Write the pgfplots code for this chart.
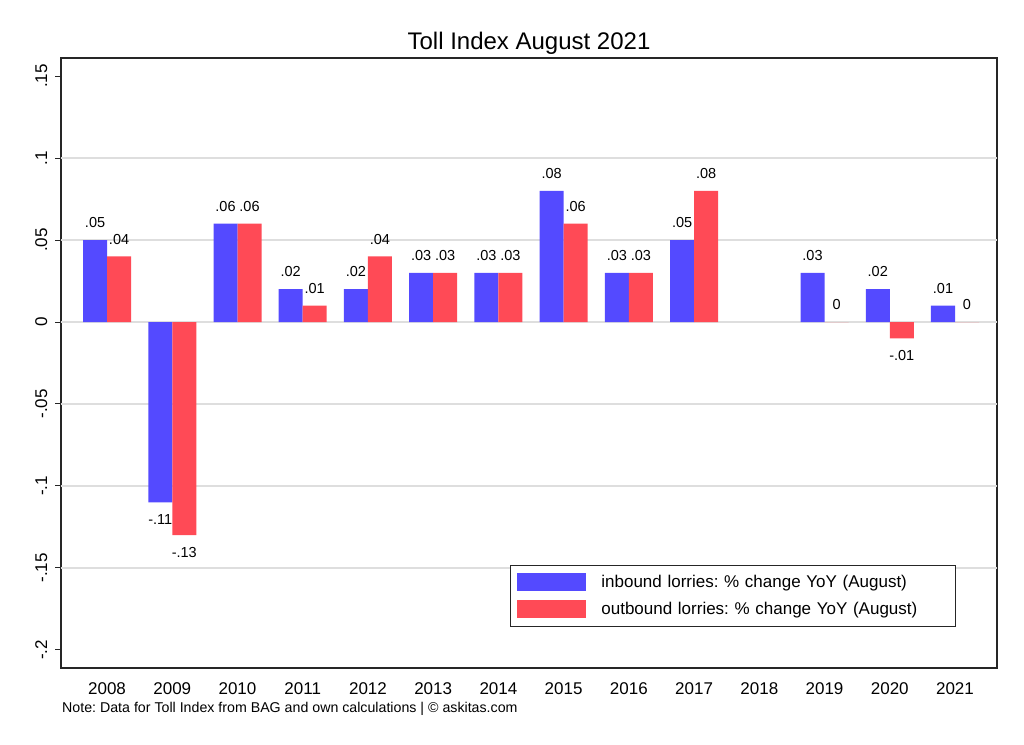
\documentclass[border=0pt]{standalone}
\usepackage{pgfplots}
\pgfplotsset{compat=1.18}
\usepackage{fontspec}
\setmainfont{Liberation Sans}
\usetikzlibrary{calc}
\definecolor{inblue}{RGB}{84,74,255}
\definecolor{outred}{RGB}{255,74,86}
\definecolor{gridgray}{RGB}{222,222,222}
\frenchspacing

\begin{document}
\begin{tikzpicture}
\begin{axis}[
  scale only axis,
  width=936bp, height=610bp,
  clip=false,
  xmin=2007.294, xmax=2021.644,
  ymin=-0.211, ymax=0.161,
  ybar=0pt, bar width=0.368,
  axis line style={draw=black!85, line width=1.1bp},
  /pgf/number format/assume math mode=true,
  ticklabel style={font=\fontsize{17bp}{20bp}\selectfont},
  xtick={2008,2009,2010,2011,2012,2013,2014,2015,2016,2017,2018,2019,2020,2021},
  xticklabels={2008,2009,2010,2011,2012,2013,2014,2015,2016,2017,2018,2019,2020,2021},
  xtick style={draw=none},
  xticklabel style={anchor=base},
  xticklabel shift=20bp,
  ytick={-0.2,-0.15,-0.1,-0.05,0,0.05,0.1,0.15},
  yticklabels={-.2,-.15,-.1,-.05,0,.05,.1,.15},
  ytick pos=left,
  ytick align=outside,
  major tick length=6bp,
  ytick style={draw=black!85, line width=1bp},
  yticklabel style={rotate=90, anchor=base},
  yticklabel shift=8bp,
  extra y ticks={-0.15,-0.1,-0.05,0,0.05,0.1},
  extra y tick labels={},
  extra y tick style={grid=major, major tick length=0pt,
    major grid style={draw=gridgray, line width=1.2bp}},
  title={Toll Index August 2021},
  title style={font=\fontsize{24bp}{28bp}\selectfont, at={(0.5,1)}, anchor=base, yshift=3bp},
  point meta=y,
  nodes near coords={\pgfmathprintnumber[fixed, precision=2, skip 0.]{\pgfplotspointmeta}},
  nodes near coords align=vertical,
  every node near coord/.append style={font=\fontsize{14.5bp}{17bp}\selectfont,
    text=black, inner xsep=0bp, inner ysep=12bp},
  legend style={
    at={(0.4797,0.1689)}, anchor=north west,
    draw=black!85, line width=0.8bp,
    inner xsep=7bp, inner ysep=8bp,
    font=\fontsize{17bp}{20bp}\selectfont,
    nodes={inner sep=0bp},
    row sep=9bp,
    /tikz/every odd column/.append style={column sep=15bp},
    /tikz/every even column/.append style={text width=347bp},
  },
  legend cell align=left,
  legend image code/.code={\fill[#1] (0bp,-9bp) rectangle (69bp,9bp);},
]
\addplot[fill=inblue, draw=none] coordinates {
  (2008,0.05) (2009,-0.11) (2010,0.06) (2011,0.02)
  (2012,0.02) (2013,0.03) (2014,0.03) (2015,0.08)
  (2016,0.03) (2017,0.05) (2019,0.03) (2020,0.02)
  (2021,0.01)
};
\addplot[fill=outred, draw=none] coordinates {
  (2008,0.04) (2009,-0.13) (2010,0.06) (2011,0.01)
  (2012,0.04) (2013,0.03) (2014,0.03) (2015,0.06)
  (2016,0.03) (2017,0.08) (2019,0) (2020,-0.01)
  (2021,0)
};
\legend{inbound lorries: \% change YoY (August), outbound lorries: \% change YoY (August)}
\coordinate (bl) at (rel axis cs:0,0);
\coordinate (tr) at (rel axis cs:1,1);
\node[anchor=base west, inner sep=0pt, xshift=1bp, yshift=-44bp,
  font=\fontsize{14.2bp}{17bp}\selectfont] at (rel axis cs:0,0)
  {Note: Data for Toll Index from BAG and own calculations | © askitas.com};
\end{axis}
\pgfresetboundingbox
\path ($(bl)+(-61bp,-77bp)$) rectangle ($(tr)+(27bp,58bp)$);
\end{tikzpicture}
\end{document}
